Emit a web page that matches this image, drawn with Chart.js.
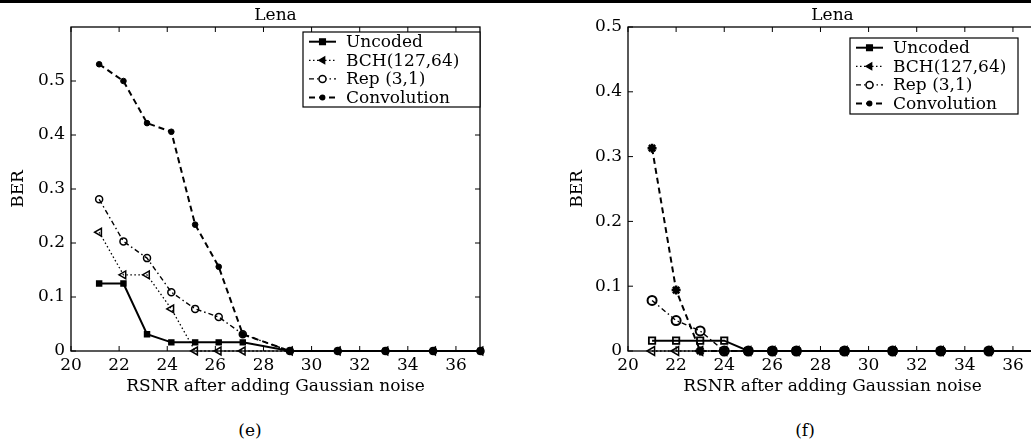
<!DOCTYPE html>
<html>
<head>
<meta charset="utf-8">
<script src="https://cdn.jsdelivr.net/npm/chart.js@4/dist/chart.umd.min.js"></script>
<style>
  html, body { margin: 0; padding: 0; background: #fff; width: 1031px; height: 445px; overflow: hidden; }
  #topbar { position: absolute; left: 0; top: 0; width: 1031px; height: 3px; background: #000; z-index: 2; }
  .panel { position: absolute; top: 0; height: 400px; }
  #wrapE { left: 0; width: 500px; }
  #wrapF { left: 520px; width: 530px; }
  .cap { position: absolute; top: 420px; font: 17px "DejaVu Serif", serif; color: #000; transform: translateX(-50%); }
</style>
</head>
<body>
<div id="topbar"></div>
<div class="panel" id="wrapE"><canvas id="chartE" width="500" height="400"></canvas></div>
<div class="panel" id="wrapF"><canvas id="chartF" width="530" height="400"></canvas></div>
<div class="cap" style="left:250px">(e)</div>
<div class="cap" style="left:805px">(f)</div>

<script>
// series names
const seriesNames = ['Uncoded', 'BCH(127,64)', 'Rep (3,1)', 'Convolution'];

// tick labels
const xTicks = [20, 22, 24, 26, 28, 30, 32, 34, 36];
const yTicks = [0, 0.1, 0.2, 0.3, 0.4, 0.5];

// panel (e)
const rsnrE = [21.17, 22.18, 23.16, 24.17, 25.16, 26.14, 27.14, 29.1, 31.09, 33.07, 35.05, 37.02];
const uncodedE = [0.125, 0.125, 0.031, 0.016, 0.016, 0.016, 0.016, 0, 0, 0, 0, 0];
const bchE = [0.22, 0.141, 0.141, 0.078, 0, 0, 0, 0, 0, 0, 0, 0];
const repE = [0.281, 0.203, 0.172, 0.109, 0.078, 0.063, 0.031, 0, 0, 0, 0, 0];
const convE = [0.531, 0.5, 0.422, 0.406, 0.234, 0.156, 0.031, 0, 0, 0, 0, 0];

// panel (f)
const rsnrF = [21, 22, 23, 24, 25, 26, 27, 29, 31, 33, 35, 37];
const uncodedF = [0.016, 0.016, 0.016, 0.016, 0, 0, 0, 0, 0, 0, 0, 0];
const bchF = [0, 0, 0, 0, 0, 0, 0, 0, 0, 0, 0, 0];
const repF = [0.078, 0.047, 0.031, 0, 0, 0, 0, 0, 0, 0, 0, 0];
const convF = [0.313, 0.094, 0, 0, 0, 0, 0, 0, 0, 0, 0, 0];

const FONT = { family: '"DejaVu Serif", serif', size: 17, weight: 'normal' };
const HOLLOW = 'rgba(255,255,255,0)';

// line + marker look of each series
function seriesStyles(big) {
  return [
    { borderDash: [], borderWidth: 2, pointStyle: 'rect', pointRotation: 0,
      pointRadius: big ? 4.5 : 3.5, pointBackgroundColor: big ? HOLLOW : '#000', pointBorderWidth: big ? 1.8 : 1.5 },
    { borderDash: [1.5, 2.5], borderWidth: 1.3, pointStyle: 'triangle', pointRotation: -90,
      pointRadius: big ? 5 : 4.5, pointBackgroundColor: HOLLOW, pointBorderWidth: 1.5 },
    { borderDash: [5, 3, 1.5, 3], borderWidth: 1.4, pointStyle: 'circle', pointRotation: 0,
      pointRadius: big ? 4.5 : 3.5, pointBackgroundColor: HOLLOW, pointBorderWidth: big ? 2 : 1.5 },
    { borderDash: [6, 4], borderWidth: 2, pointStyle: big ? 'star' : 'circle', pointRotation: 0,
      pointRadius: big ? 4.5 : 2.8, pointBackgroundColor: '#000', pointBorderWidth: big ? 2.5 : 1 }
  ];
}

// box with inward ticks on all four sides
const frame = {
  id: 'frame',
  beforeDatasetsDraw(chart) {
    const { ctx, chartArea: a, scales: { x, y } } = chart;
    ctx.save();
    ctx.strokeStyle = '#000';
    ctx.lineWidth = 1.3;
    ctx.strokeRect(a.left, a.top, a.right - a.left, a.bottom - a.top);
    ctx.lineWidth = 1;
    ctx.beginPath();
    x.ticks.forEach(t => {
      const px = x.getPixelForValue(t.value);
      ctx.moveTo(px, a.bottom); ctx.lineTo(px, a.bottom - 5);
      ctx.moveTo(px, a.top); ctx.lineTo(px, a.top + 5);
    });
    y.ticks.forEach(t => {
      const py = y.getPixelForValue(t.value);
      ctx.moveTo(a.left, py); ctx.lineTo(a.left + 5, py);
      ctx.moveTo(a.right, py); ctx.lineTo(a.right - 5, py);
    });
    ctx.stroke();
    ctx.restore();
  }
};

// small legend symbols
function marker(ctx, i, x, y) {
  ctx.save();
  ctx.setLineDash([]);
  ctx.lineWidth = 1.5;
  ctx.strokeStyle = '#000';
  ctx.fillStyle = i === 2 ? '#fff' : '#000';
  ctx.beginPath();
  if (i === 0) {
    ctx.rect(x - 2.8, y - 2.8, 5.6, 5.6);
  } else if (i === 1) {
    ctx.moveTo(x - 3.5, y); ctx.lineTo(x + 2.1, y - 3.2); ctx.lineTo(x + 2.1, y + 3.2); ctx.closePath();
  } else if (i === 2) {
    ctx.arc(x, y, 3.5, 0, Math.PI * 2);
  } else {
    ctx.arc(x, y, 2.2, 0, Math.PI * 2);
  }
  ctx.fill();
  ctx.stroke();
  ctx.restore();
}

// legend box drawn inside the plot, like the original
const boxLegend = {
  id: 'boxLegend',
  afterDatasetsDraw(chart, args, opts) {
    const { ctx, chartArea: a } = chart;
    const x0 = a.right - opts.right - opts.width;
    const y0 = a.top + opts.top;
    ctx.save();
    ctx.fillStyle = '#fff';
    ctx.fillRect(x0, y0, opts.width, opts.height);
    ctx.strokeStyle = '#000';
    ctx.lineWidth = 1.2;
    ctx.strokeRect(x0, y0, opts.width, opts.height);
    ctx.font = '17px "DejaVu Serif", serif';
    ctx.textBaseline = 'middle';
    chart.data.datasets.forEach((ds, i) => {
      const yy = y0 + 9.7 + i * 18.6;
      ctx.save();
      ctx.strokeStyle = '#000';
      ctx.lineWidth = ds.borderWidth;
      ctx.setLineDash(ds.borderDash);
      ctx.beginPath();
      ctx.moveTo(x0 + 6, yy); ctx.lineTo(x0 + 33, yy);
      ctx.stroke();
      ctx.restore();
      marker(ctx, i, x0 + 19.5, yy);
      ctx.fillStyle = '#000';
      ctx.fillText(ds.label, x0 + 43, yy + 1);
    });
    ctx.restore();
  }
};

function makeChart(id, xs, ys, o) {
  const st = seriesStyles(o.big);
  const datasets = ys.map((vals, i) => Object.assign({
    label: seriesNames[i],
    data: vals.map((v, j) => ({ x: xs[j], y: v })),
    borderColor: '#000',
    pointBorderColor: '#000',
    fill: false,
    tension: 0,
    clip: false
  }, st[i]));

  return new Chart(document.getElementById(id), {
    type: 'line',
    data: { datasets },
    options: {
      responsive: false,
      animation: false,
      layout: { padding: { left: 0, right: o.padRight, top: 0, bottom: 0 } },
      plugins: {
        legend: { display: false },
        tooltip: { enabled: false },
        title: {
          display: true, text: 'Lena', fullSize: false, color: '#000', font: FONT,
          padding: { top: 5, bottom: 1.6 }
        },
        boxLegend: o.legend
      },
      scales: {
        x: {
          type: 'linear', min: 20, max: 37,
          grid: { display: false, drawTicks: false },
          border: { display: false },
          afterBuildTicks: s => { s.ticks = xTicks.map(v => ({ value: v })); },
          afterFit: s => { s.height = 49; },
          ticks: { color: '#000', font: FONT, padding: 4, maxRotation: 0, autoSkip: false },
          title: {
            display: true, text: 'RSNR after adding Gaussian noise', color: '#000', font: FONT,
            padding: { top: 0, bottom: 3 }
          }
        },
        y: {
          min: 0, max: o.yMax,
          grid: { display: false, drawTicks: false },
          border: { display: false },
          afterBuildTicks: s => { s.ticks = yTicks.map(v => ({ value: v })); },
          afterFit: s => { s.width = o.yWidth; },
          ticks: { color: '#000', font: FONT, padding: 6, autoSkip: false, callback: v => String(v) },
          title: {
            display: true, text: 'BER', color: '#000', font: FONT,
            padding: { top: o.yTitlePad, bottom: 0 }
          }
        }
      }
    },
    plugins: [frame, boxLegend]
  });
}

makeChart('chartE', rsnrE, [uncodedE, bchE, repE, convE], {
  big: false, yMax: 0.6, yWidth: 71, yTitlePad: 8, padRight: 20,
  legend: { right: 0, top: 5, width: 177, height: 75 }
});

makeChart('chartF', rsnrF, [uncodedF, bchF, repF, convF], {
  big: true, yMax: 0.5, yWidth: 108, yTitlePad: 47, padRight: 13,
  legend: { right: 19, top: 11, width: 168, height: 76 }
});
</script>
</body>
</html>
